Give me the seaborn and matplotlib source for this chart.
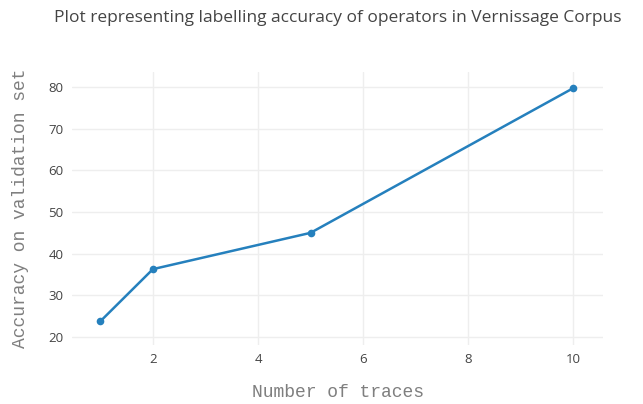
import matplotlib
matplotlib.use("Agg")
import matplotlib.pyplot as plt
import seaborn as sns
import pandas as pd

# data
traces = [1, 2, 5, 10]
accuracy = [23.8, 36.3, 45.0, 79.7]

sns.set_theme(style="white")
plt.rcParams['font.family'] = ['Open Sans', 'DejaVu Sans']

df = pd.DataFrame({"traces": traces, "accuracy": accuracy})

fig = plt.figure(figsize=(6.43, 4.04), dpi=100)
ax = fig.add_axes([0.112, 0.146, 0.826, 0.676])

sns.lineplot(data=df, x="traces", y="accuracy", ax=ax, color="#2580bd",
             linewidth=1.8, marker="o", markersize=5.5, markeredgewidth=0)

ax.set_xlim(0.46, 10.57)
ax.set_ylim(18.1, 83.6)
ax.set_xticks([2, 4, 6, 8, 10])
ax.set_yticks([20, 30, 40, 50, 60, 70, 80])
ax.grid(True, color="#eeeeee", linewidth=1)
ax.set_axisbelow(True)
for s in ax.spines.values():
    s.set_visible(False)
ax.tick_params(axis="both", length=0, labelsize=9.5, labelcolor="#444444", pad=6)

mono = ['Liberation Mono', 'DejaVu Sans Mono']
ax.set_xlabel("Number of traces", family=mono, fontsize=13, color="#7f7f7f",
              labelpad=13)
ax.set_ylabel("Accuracy on validation set", family=mono, fontsize=13,
              color="#7f7f7f", labelpad=14)

fig.text(0.525, 0.955, "Plot representing labelling accuracy of operators in Vernissage Corpus",
         ha="center", va="center", fontsize=12.5, color="#444444")

fig.savefig("out.png", dpi=100)
